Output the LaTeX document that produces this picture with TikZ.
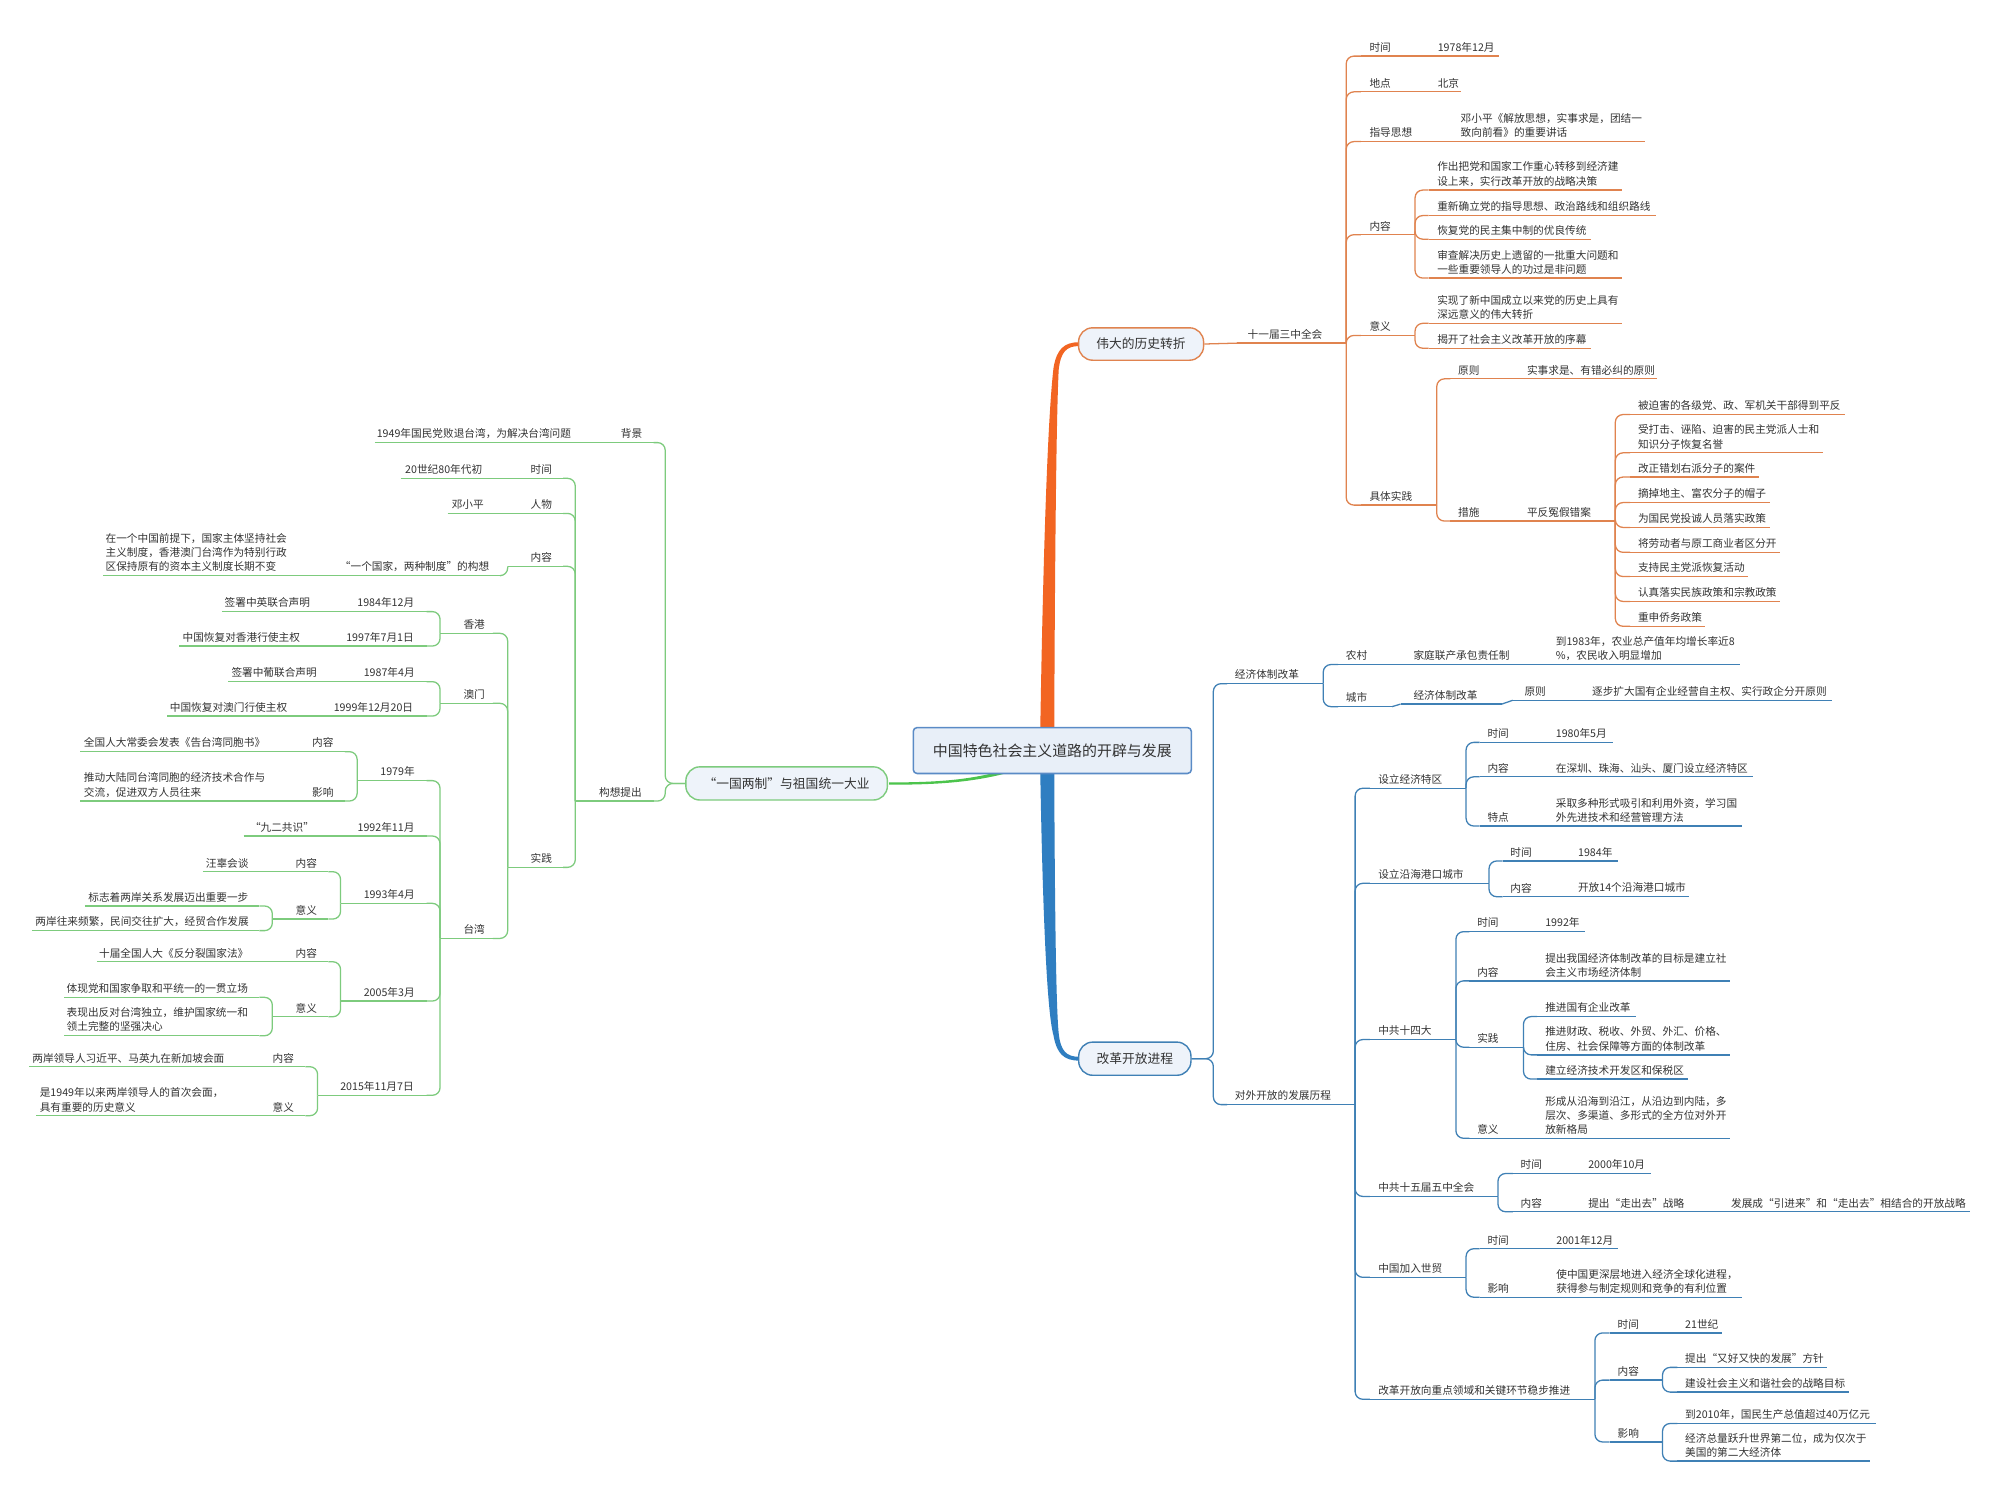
\documentclass[tikz,border=0pt]{standalone}
\usepackage{fontspec}
\setmainfont{Noto Sans CJK SC}
\definecolor{cOr}{HTML}{E0834F}
\definecolor{cOrB}{HTML}{F26522}
\definecolor{cBl}{HTML}{3F80B5}
\definecolor{cBlB}{HTML}{2F7EC1}
\definecolor{cGr}{HTML}{7DCB7D}
\definecolor{cGrB}{HTML}{4CC44C}
\definecolor{cPill}{HTML}{EEF3FA}
\definecolor{cRootF}{HTML}{E8EFF8}
\definecolor{cRootD}{HTML}{5A8BC6}
\definecolor{cTxt}{HTML}{333333}
\tikzset{
  orl/.style={draw=cOr},
  bll/.style={draw=cBl},
  grl/.style={draw=cGr},
  topic/.style={anchor=south west, inner ysep=2.8pt, align=left, text=cTxt, font=\fontsize{8.36}{11.1}\selectfont},
  cx/.style={line width=1pt, rounded corners=6pt},
  sx/.style={line width=1pt},
  pill/.style={rounded corners=11pt, fill=cPill, line width=1.1pt, inner sep=0pt, text=cTxt, font=\fontsize{10}{12}\selectfont},
}
\newcommand{\tpc}[7]{%
  \pgfmathsetmacro\tpoff{#6-#3}%
  \pgfmathsetmacro\tpw{max(1,#4-#3-2*(#6-#3))}%
  \node[topic, inner xsep=\tpoff pt, text width=\tpw pt] (#2) at (#3,#5) {#7};
  \draw[#1, sx] (#2.south west) -- (#2.south east);
}
\newcommand{\cnR}[3]{\draw[#1,cx] (#2.south east) |- (#3.south west);}
\newcommand{\cnL}[3]{\draw[#1,cx] (#2.south west) |- (#3.south east);}
\newcommand{\stR}[3]{\draw[#1,sx] (#2.south east) -- (#3.south west);}
\newcommand{\stL}[3]{\draw[#1,sx] (#2.south west) -- (#3.south east);}
\begin{document}
\begin{tikzpicture}[x=1pt, y=-1pt]
\fill[white] (0,0) rectangle (1568,1176);
\useasboundingbox (0,0) rectangle (1568,1176);

% main branches (tapered bands)
\fill[cOrB] (815.5,576) .. controls (817.5,450) and (821,330) .. (826,288) .. controls (828.5,274) and (834,268.3) .. (846,268.3) -- (846,271.3) .. controls (836,271.3) and (831.5,276) .. (830,290) .. controls (828,330) and (827,450) .. (826.5,576) -- cycle;
\fill[cBlB] (815.5,602) .. controls (817.5,720) and (821,795) .. (826,812) .. controls (828.5,826) and (834,831.5) .. (846,831.5) -- (846,828.5) .. controls (836,828.5) and (831.5,824) .. (830,810) .. controls (828,790) and (827,720) .. (826.5,602) -- cycle;
\fill[cGrB] (797,604) .. controls (765,613.5) and (735,615.2) .. (697,615.2) -- (697,613.4) .. controls (735,613.4) and (762,611.5) .. (790,603) -- cycle;

\node[draw=cRootD, fill=cRootF, rounded corners=3pt, line width=1.2pt, minimum width=218pt, minimum height=36pt, inner sep=0pt, text=cTxt, font=\fontsize{11.7}{14}\selectfont] (root) at (825,588.4) {中国特色社会主义道路的开辟与发展};
\node[pill, draw=cOr, minimum width=98pt, minimum height=25.4pt] (pA) at (894.6,269.7) {伟大的历史转折};
\node[pill, draw=cBl, minimum width=88pt, minimum height=26pt] (pB) at (889.7,830) {改革开放进程};
\node[pill, draw=cGr, minimum width=158pt, minimum height=26pt] (pC) at (616.7,614.2) {“一国两制”与祖国统一大业};

% ---------------- orange ----------------
\tpc{orl}{n1}{970}{1055}{269}{978}{十一届三中全会}
\tpc{orl}{at}{1067}{1121}{44}{1073.5}{时间}
\tpc{orl}{atv}{1121}{1175}{44}{1127}{1978年12月}
\tpc{orl}{ad}{1067}{1121}{72}{1073.5}{地点}
\tpc{orl}{adv}{1121}{1145}{72}{1127}{北京}
\tpc{orl}{az}{1067}{1140}{111}{1073.5}{指导思想}
\tpc{orl}{azv}{1140}{1289}{111}{1145}{邓小平《解放思想，实事求是，团结一\\致向前看》的重要讲话}
\tpc{orl}{an}{1067}{1109}{184}{1073.5}{内容}
\tpc{orl}{an1}{1120}{1271}{149}{1126.6}{作出把党和国家工作重心转移到经济建\\设上来，实行改革开放的战略决策}
\tpc{orl}{an2}{1120}{1298}{169}{1126.6}{重新确立党的指导思想、政治路线和组织路线}
\tpc{orl}{an3}{1120}{1247}{187.5}{1126.6}{恢复党的民主集中制的优良传统}
\tpc{orl}{an4}{1120}{1271}{218}{1126.6}{审查解决历史上遗留的一批重大问题和\\一些重要领导人的功过是非问题}
\tpc{orl}{ay}{1067}{1109}{263}{1073.5}{意义}
\tpc{orl}{ay1}{1120}{1271}{253.5}{1126.6}{实现了新中国成立以来党的历史上具有\\深远意义的伟大转折}
\tpc{orl}{ay2}{1120}{1247}{273}{1126.6}{揭开了社会主义改革开放的序幕}
\tpc{orl}{as}{1067}{1126}{396}{1073.5}{具体实践}
\tpc{orl}{as1}{1137}{1190}{297}{1143}{原则}
\tpc{orl}{as1v}{1190}{1299}{297}{1197}{实事求是、有错必纠的原则}
\tpc{orl}{as2}{1137}{1190}{408.5}{1143}{措施}
\tpc{orl}{as2v}{1190}{1266}{408.5}{1197}{平反冤假错案}
\tpc{orl}{q1}{1278}{1446}{325}{1284}{被迫害的各级党、政、军机关干部得到平反}
\tpc{orl}{q2}{1278}{1429}{355}{1284}{受打击、诬陷、迫害的民主党派人士和\\知识分子恢复名誉}
\tpc{orl}{q3}{1278}{1379}{374}{1284}{改正错划右派分子的案件}
\tpc{orl}{q4}{1278}{1387}{394}{1284}{摘掉地主、富农分子的帽子}
\tpc{orl}{q5}{1278}{1387}{413.5}{1284}{为国民党投诚人员落实政策}
\tpc{orl}{q6}{1278}{1395}{433}{1284}{将劳动者与原工商业者区分开}
\tpc{orl}{q7}{1278}{1370}{452}{1284}{支持民主党派恢复活动}
\tpc{orl}{q8}{1278}{1395}{471.5}{1284}{认真落实民族政策和宗教政策}
\tpc{orl}{q9}{1278}{1336}{491}{1284}{重申侨务政策}

\draw[orl,sx] (pA.east) -- (n1.south west);
\foreach \c in {at,ad,az,an,ay,as} {\cnR{orl}{n1}{\c}}
\stR{orl}{at}{atv}
\stR{orl}{ad}{adv}
\stR{orl}{az}{azv}
\foreach \c in {an1,an2,an3,an4} {\cnR{orl}{an}{\c}}
\foreach \c in {ay1,ay2} {\cnR{orl}{ay}{\c}}
\foreach \c in {as1,as2} {\cnR{orl}{as}{\c}}
\stR{orl}{as1}{as1v}
\stR{orl}{as2}{as2v}
\foreach \c in {q1,q2,q3,q4,q5,q6,q7,q8,q9} {\cnR{orl}{as2v}{\c}}

% ---------------- blue ----------------
\tpc{bll}{b1}{962}{1037}{536}{968}{经济体制改革}
\tpc{bll}{b11}{1049}{1091}{521}{1055}{农村}
\tpc{bll}{b11v}{1098}{1213}{521}{1108}{家庭联产承包责任制}
\tpc{bll}{b11vv}{1213}{1364}{521}{1219.6}{到1983年，农业总产值年均增长率近8\\\%，农民收入明显增加}
\tpc{bll}{b12}{1049}{1091}{554}{1055}{城市}
\tpc{bll}{b12v}{1098}{1177}{552}{1108}{经济体制改革}
\tpc{bll}{b12vv}{1186}{1240}{549}{1195}{原则}
\tpc{bll}{b12vvv}{1240}{1436}{549}{1248}{逐步扩大国有企业经营自主权、实行政企分开原则}
\tpc{bll}{b2}{962}{1062}{866}{968}{对外开放的发展历程}
\tpc{bll}{c1}{1074}{1149}{618}{1080.4}{设立经济特区}
\tpc{bll}{c11}{1160}{1214}{582}{1166}{时间}
\tpc{bll}{c11v}{1214}{1264}{582}{1219.6}{1980年5月}
\tpc{bll}{c12}{1160}{1214}{609}{1166}{内容}
\tpc{bll}{c12v}{1214}{1374}{609}{1219.6}{在深圳、珠海、汕头、厦门设立经济特区}
\tpc{bll}{c13}{1160}{1214}{647.6}{1166}{特点}
\tpc{bll}{c13v}{1214}{1365}{647.6}{1219.6}{采取多种形式吸引和利用外资，学习国\\外先进技术和经营管理方法}
\tpc{bll}{c2}{1074}{1167}{692.5}{1080.4}{设立沿海港口城市}
\tpc{bll}{c21}{1178}{1231}{675}{1184}{时间}
\tpc{bll}{c21v}{1231}{1268}{675}{1237}{1984年}
\tpc{bll}{c22}{1178}{1231}{703}{1184}{内容}
\tpc{bll}{c22v}{1231}{1324}{703}{1237}{开放14个沿海港口城市}
\tpc{bll}{c3}{1074}{1141}{815}{1080.4}{中共十四大}
\tpc{bll}{c31}{1152}{1206}{730.4}{1158}{时间}
\tpc{bll}{c31v}{1206}{1242}{730.4}{1211.3}{1992年}
\tpc{bll}{c32}{1152}{1206}{769}{1158}{内容}
\tpc{bll}{c32v}{1206}{1356}{769}{1211.3}{提出我国经济体制改革的目标是建立社\\会主义市场经济体制}
\tpc{bll}{c33}{1152}{1194}{821}{1158}{实践}
\tpc{bll}{c331}{1205}{1282}{797}{1211.3}{推进国有企业改革}
\tpc{bll}{c332}{1205}{1356}{827}{1211.3}{推进财政、税收、外贸、外汇、价格、\\住房、社会保障等方面的体制改革}
\tpc{bll}{c333}{1205}{1323}{846}{1211.3}{建立经济技术开发区和保税区}
\tpc{bll}{c34}{1152}{1206}{892.4}{1158}{意义}
\tpc{bll}{c34v}{1206}{1356}{892.4}{1211.3}{形成从沿海到沿江，从沿边到内陆，多\\层次、多渠道、多形式的全方位对外开\\放新格局}
\tpc{bll}{c4}{1074}{1174}{938}{1080.4}{中共十五届五中全会}
\tpc{bll}{c41}{1186}{1240}{920}{1192}{时间}
\tpc{bll}{c41v}{1240}{1294}{920}{1245}{2000年10月}
\tpc{bll}{c42}{1186}{1240}{950}{1192}{内容}
\tpc{bll}{c42v}{1240}{1350}{950}{1245}{提出“走出去”战略}
\tpc{bll}{c42vv}{1350}{1544}{950}{1357}{发展成“引进来”和“走出去”相结合的开放战略}
\tpc{bll}{c5}{1074}{1149}{1001.4}{1080.4}{中国加入世贸}
\tpc{bll}{c51}{1160}{1214}{979}{1166}{时间}
\tpc{bll}{c51v}{1214}{1268}{979}{1220}{2001年12月}
\tpc{bll}{c52}{1160}{1214}{1017}{1166}{影响}
\tpc{bll}{c52v}{1214}{1365}{1017}{1220}{使中国更深层地进入经济全球化进程，\\获得参与制定规则和竞争的有利位置}
\tpc{bll}{c6}{1074}{1250}{1097}{1080.4}{改革开放向重点领域和关键环节稳步推进}
\tpc{bll}{c61}{1262}{1315}{1045}{1268}{时间}
\tpc{bll}{c61v}{1315}{1350}{1045}{1321}{21世纪}
\tpc{bll}{c62}{1262}{1303}{1082}{1268}{内容}
\tpc{bll}{c621}{1315}{1432}{1072}{1321}{提出“又好又快的发展”方针}
\tpc{bll}{c622}{1315}{1449}{1091.4}{1321}{建设社会主义和谐社会的战略目标}
\tpc{bll}{c63}{1262}{1303}{1130.5}{1268}{影响}
\tpc{bll}{c631}{1315}{1470}{1116}{1321}{到2010年，国民生产总值超过40万亿元}
\tpc{bll}{c632}{1315}{1466}{1145.5}{1321}{经济总量跃升世界第二位，成为仅次于\\美国的第二大经济体}

\draw[bll,cx] (pB.east) -- ++(17,0) |- (b1.south west);
\draw[bll,cx] (pB.east) -- ++(17,0) |- (b2.south west);
\cnR{bll}{b1}{b11}
\cnR{bll}{b1}{b12}
\stR{bll}{b11}{b11v}
\stR{bll}{b11v}{b11vv}
\stR{bll}{b12}{b12v}
\stR{bll}{b12v}{b12vv}
\stR{bll}{b12vv}{b12vvv}
\foreach \c in {c1,c2,c3,c4,c5,c6} {\cnR{bll}{b2}{\c}}
\foreach \c in {c11,c12,c13} {\cnR{bll}{c1}{\c}}
\stR{bll}{c11}{c11v}
\stR{bll}{c12}{c12v}
\stR{bll}{c13}{c13v}
\foreach \c in {c21,c22} {\cnR{bll}{c2}{\c}}
\stR{bll}{c21}{c21v}
\stR{bll}{c22}{c22v}
\foreach \c in {c31,c32,c33,c34} {\cnR{bll}{c3}{\c}}
\stR{bll}{c31}{c31v}
\stR{bll}{c32}{c32v}
\stR{bll}{c34}{c34v}
\foreach \c in {c331,c332,c333} {\cnR{bll}{c33}{\c}}
\foreach \c in {c41,c42} {\cnR{bll}{c4}{\c}}
\stR{bll}{c41}{c41v}
\stR{bll}{c42}{c42v}
\stR{bll}{c42v}{c42vv}
\foreach \c in {c51,c52} {\cnR{bll}{c5}{\c}}
\stR{bll}{c51}{c51v}
\stR{bll}{c52}{c52v}
\foreach \c in {c61,c62,c63} {\cnR{bll}{c6}{\c}}
\stR{bll}{c61}{c61v}
\foreach \c in {c621,c622} {\cnR{bll}{c62}{\c}}
\foreach \c in {c631,c632} {\cnR{bll}{c63}{\c}}

% ---------------- green ----------------
\tpc{grl}{g1}{470}{512}{347}{486.6}{背景}
\tpc{grl}{g1v}{293.8}{470}{347}{295.2}{1949年国民党败退台湾，为解决台湾问题}
\tpc{grl}{g2}{451}{512}{628}{469.5}{构想提出}
\tpc{grl}{g21}{392}{441}{375}{415.8}{时间}
\tpc{grl}{g21v}{314}{392}{375}{317.5}{20世纪80年代初}
\tpc{grl}{g22}{392}{441}{402.5}{415.8}{人物}
\tpc{grl}{g22v}{351}{392}{402.5}{354}{邓小平}
\tpc{grl}{g23}{398}{441}{444}{415.8}{内容}
\tpc{grl}{g23v}{262}{392}{451.3}{266.3}{“一个国家，两种制度”的构想}
\tpc{grl}{g23vv}{81}{262}{451.3}{82.6}{在一个中国前提下，国家主体坚持社会\\主义制度，香港澳门台湾作为特别行政\\区保持原有的资本主义制度长期不变}
\tpc{grl}{g24}{398}{441}{680}{415.8}{实践}
\tpc{grl}{hk}{345}{386}{496.5}{363.2}{香港}
\tpc{grl}{hk1}{262}{334}{479.5}{280}{1984年12月}
\tpc{grl}{hk1v}{174}{262}{479.5}{176}{签署中英联合声明}
\tpc{grl}{hk2}{252}{334}{506.5}{271.3}{1997年7月1日}
\tpc{grl}{hk2v}{140.5}{252}{506.5}{143}{中国恢复对香港行使主权}
\tpc{grl}{mo}{345}{386}{551.4}{363.2}{澳门}
\tpc{grl}{mo1}{266}{334}{534.4}{285}{1987年4月}
\tpc{grl}{mo1v}{179}{266}{534.4}{181.3}{签署中葡联合声明}
\tpc{grl}{mo2}{243}{334}{561.4}{261.5}{1999年12月20日}
\tpc{grl}{mo2v}{131}{243}{561.4}{133}{中国恢复对澳门行使主权}
\tpc{grl}{tw}{345}{386}{735.7}{363.2}{台湾}
\tpc{grl}{tw1}{280}{334}{612}{298}{1979年}
\tpc{grl}{tw11}{225}{270}{589.3}{244.5}{内容}
\tpc{grl}{tw11v}{63}{225}{589.3}{65.6}{全国人大常委会发表《告台湾同胞书》}
\tpc{grl}{tw12}{225}{270}{628}{244.5}{影响}
\tpc{grl}{tw12v}{63}{225}{628}{65.6}{推动大陆同台湾同胞的经济技术合作与\\交流，促进双方人员往来}
\tpc{grl}{tw2}{250}{334}{655.4}{280.2}{1992年11月}
\tpc{grl}{tw2v}{191}{250}{655.4}{195.8}{“九二共识”}
\tpc{grl}{tw3}{267}{334}{708.2}{285}{1993年4月}
\tpc{grl}{tw31}{210}{257}{683.4}{231.6}{内容}
\tpc{grl}{tw31v}{159}{210}{683.4}{161.2}{汪辜会谈}
\tpc{grl}{tw32}{213.5}{257}{720.5}{231.6}{意义}
\tpc{grl}{tw321}{66.5}{203}{710.3}{69.1}{标志着两岸关系发展迈出重要一步}
\tpc{grl}{tw322}{25}{203}{729.6}{27.6}{两岸往来频繁，民间交往扩大，经贸合作发展}
\tpc{grl}{tw4}{267}{334}{784.8}{285}{2005年3月}
\tpc{grl}{tw41}{210}{257}{754}{231.6}{内容}
\tpc{grl}{tw41v}{76}{210}{754}{77.5}{十届全国人大《反分裂国家法》}
\tpc{grl}{tw42}{213.5}{257}{797.1}{231.6}{意义}
\tpc{grl}{tw421}{50.5}{203}{781.9}{52.1}{体现党和国家争取和平统一的一贯立场}
\tpc{grl}{tw422}{50.5}{203}{812}{52.1}{表现出反对台湾独立，维护国家统一和\\领土完整的坚强决心}
\tpc{grl}{tw5}{249}{334}{858.7}{266.6}{2015年11月7日}
\tpc{grl}{tw51}{190}{239}{836.3}{213.6}{内容}
\tpc{grl}{tw51v}{23}{190}{836.3}{25.2}{两岸领导人习近平、马英九在新加坡会面}
\tpc{grl}{tw52}{190}{239}{874.7}{213.6}{意义}
\tpc{grl}{tw52v}{28.6}{190}{874.7}{31}{是1949年以来两岸领导人的首次会面，\\具有重要的历史意义}

\draw[grl,cx] (pC.west) -- ++(-15.6,0) |- (g1.south east);
\draw[grl,cx] (pC.west) -- ++(-15.6,0) |- (g2.south east);
\stL{grl}{g1}{g1v}
\foreach \c in {g21,g22,g23,g24} {\cnL{grl}{g2}{\c}}
\stL{grl}{g21}{g21v}
\stL{grl}{g22}{g22v}
\cnL{grl}{g23}{g23v}
\stL{grl}{g23v}{g23vv}
\foreach \c in {hk,mo,tw} {\cnL{grl}{g24}{\c}}
\foreach \c in {hk1,hk2} {\cnL{grl}{hk}{\c}}
\stL{grl}{hk1}{hk1v}
\stL{grl}{hk2}{hk2v}
\foreach \c in {mo1,mo2} {\cnL{grl}{mo}{\c}}
\stL{grl}{mo1}{mo1v}
\stL{grl}{mo2}{mo2v}
\foreach \c in {tw1,tw2,tw3,tw4,tw5} {\cnL{grl}{tw}{\c}}
\foreach \c in {tw11,tw12} {\cnL{grl}{tw1}{\c}}
\stL{grl}{tw11}{tw11v}
\stL{grl}{tw12}{tw12v}
\stL{grl}{tw2}{tw2v}
\foreach \c in {tw31,tw32} {\cnL{grl}{tw3}{\c}}
\stL{grl}{tw31}{tw31v}
\foreach \c in {tw321,tw322} {\cnL{grl}{tw32}{\c}}
\foreach \c in {tw41,tw42} {\cnL{grl}{tw4}{\c}}
\stL{grl}{tw41}{tw41v}
\foreach \c in {tw421,tw422} {\cnL{grl}{tw42}{\c}}
\foreach \c in {tw51,tw52} {\cnL{grl}{tw5}{\c}}
\stL{grl}{tw51}{tw51v}
\stL{grl}{tw52}{tw52v}
\end{tikzpicture}
\end{document}
